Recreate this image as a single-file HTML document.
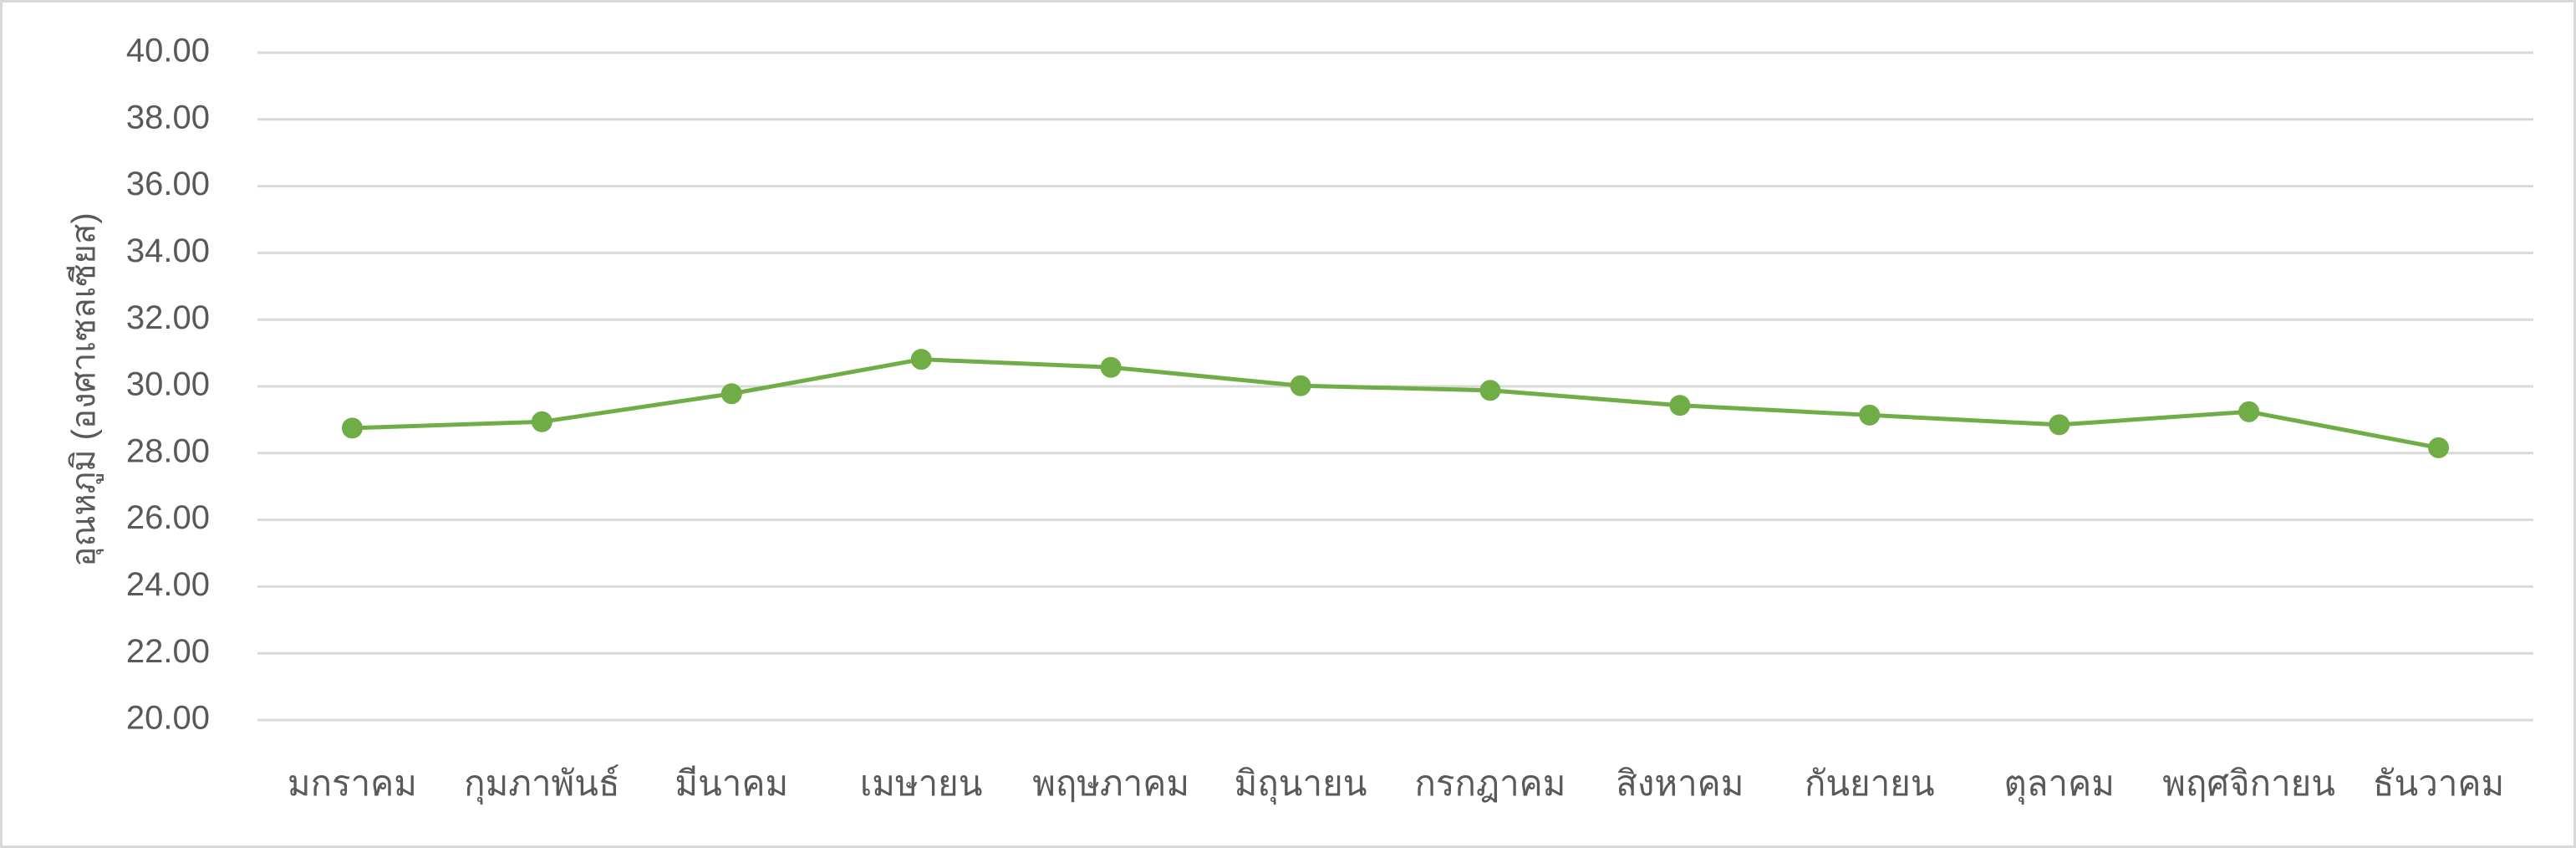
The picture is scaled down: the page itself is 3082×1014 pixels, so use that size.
<!DOCTYPE html>
<html><head><meta charset="utf-8">
<style>
html,body{margin:0;padding:0;background:#fff;}
svg{display:block;}
text{font-family:"Liberation Sans","DejaVu Sans",sans-serif;fill:#595959;}
</style></head>
<body>
<svg id="chart" width="3082" height="1014" viewBox="0 0 3082 1014" xmlns="http://www.w3.org/2000/svg">
<rect x="1.5" y="1.5" width="3079" height="1011" fill="#fff" stroke="#d9d9d9" stroke-width="3"/>
<g id="grid"></g>
<g id="yticks"></g>
<g id="xticks"></g>
<text transform="translate(103,466) rotate(-90)" text-anchor="middle" dominant-baseline="middle" font-size="40">อุณหภูมิ (องศาเซลเซียส)</text>
<g id="series"></g>
</svg>
<script>
const categories = ["มกราคม","กุมภาพันธ์","มีนาคม","เมษายน","พฤษภาคม","มิถุนายน","กรกฎาคม","สิงหาคม","กันยายน","ตุลาคม","พฤศจิกายน","ธันวาคม"];
const temps = [28.75, 28.94, 29.78, 30.81, 30.57, 30.02, 29.88, 29.43, 29.14, 28.85, 29.24, 28.16];
const yTicks = [20,22,24,26,28,30,32,34,36,38,40];
const yMin = 20, yMax = 40;
const plotL = 308, plotR = 3031, plotT = 63, plotB = 861;
const NS = "http://www.w3.org/2000/svg";
function yScale(v){ return plotB - (v - yMin) / (yMax - yMin) * (plotB - plotT); }
function xScale(i){ const w = (plotR - plotL) / categories.length; return plotL + w * (i + 0.5); }
function mk(tag, attrs, parent){ const e = document.createElementNS(NS, tag); for (const k in attrs) e.setAttribute(k, attrs[k]); parent.appendChild(e); return e; }
const grid = document.getElementById('grid'), yt = document.getElementById('yticks'), xt = document.getElementById('xticks'), ser = document.getElementById('series');
yTicks.forEach(t => {
  const y = yScale(t);
  const l = mk('line', {x1: plotL, x2: plotR, y1: y, y2: y, stroke: '#d9d9d9', 'stroke-width': 3}, grid);
  
  
  const tx = mk('text', {x: 251, y: y, 'text-anchor': 'end', 'dominant-baseline': 'middle', 'font-size': 40}, yt);
  tx.textContent = t.toFixed(2);
  
  
});
categories.forEach((c, i) => {
  const tx = mk('text', {x: xScale(i), y: 940, 'text-anchor': 'middle', 'dominant-baseline': 'middle', 'font-size': 42}, xt);
  tx.textContent = c;
  
  
});
const pts = temps.map((v, i) => xScale(i) + ',' + yScale(v)).join(' ');
const pl = mk('polyline', {points: pts, fill: 'none', stroke: '#70ad47', 'stroke-width': 5, 'stroke-linejoin': 'round'}, ser);


temps.forEach((v, i) => {
  const c = mk('circle', {cx: xScale(i), cy: yScale(v), r: 12.5, fill: '#70ad47'}, ser);
  
  
});
</script>
</body></html>
